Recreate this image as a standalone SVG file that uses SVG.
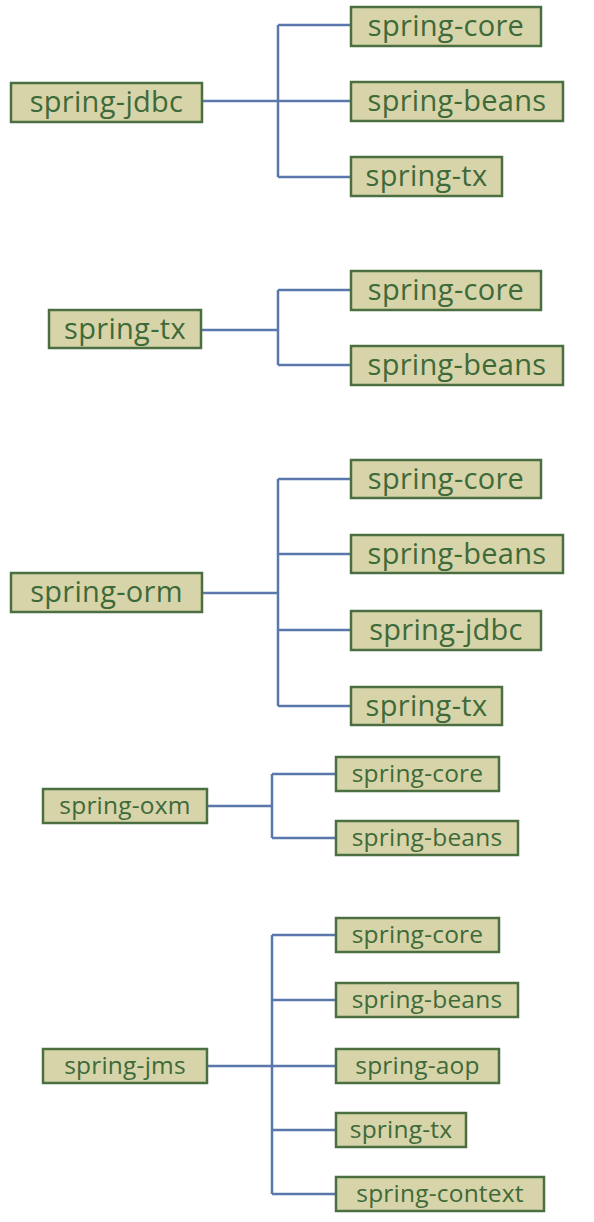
<svg xmlns="http://www.w3.org/2000/svg" width="594" height="1222" viewBox="0 0 594 1222">
<style>
.b rect{fill:#d7d4a9;stroke:#4b6f40;stroke-width:2.5}
.b text{font-family:"Open Sans","Noto Sans","DejaVu Sans",sans-serif;fill:#3e6a3a;text-anchor:middle;dominant-baseline:central}
.L text{font-size:29px;letter-spacing:0.3px}
.S text{font-size:24.5px;letter-spacing:0.2px}
#connectors path{fill:none;stroke:#5a78ac;stroke-width:2.5}
</style>
<rect width="594" height="1222" fill="#ffffff"/>
<g id="connectors">
<path d="M202 101H351M278 25V177M278 25H351M278 177H351"/>
<path d="M201 330H278M278 290V365M278 290H351M278 365H351"/>
<path d="M202 593H278M278 479V706M278 479H351M278 554H351M278 630H351M278 706H351"/>
<path d="M207 806H272M272 774V838M272 774H336M272 838H336"/>
<path d="M207 1066H336M272 935V1194M272 935H336M272 1000H336M272 1130H336M272 1194H336"/>
</g>
<g class="b L">
<g id="g1-jdbc"><rect x="11" y="83" width="191" height="39"/><text x="106.5" y="100">spring-jdbc</text></g>
<g id="g1-core"><rect x="351" y="7" width="190" height="39"/><text x="446" y="24">spring-core</text></g>
<g id="g1-beans"><rect x="351" y="82" width="212" height="39"/><text x="457" y="99">spring-beans</text></g>
<g id="g1-tx"><rect x="351" y="157" width="151" height="39"/><text x="426.5" y="174">spring-tx</text></g>
<g id="g2-tx"><rect x="49" y="310" width="152" height="38"/><text x="125" y="327">spring-tx</text></g>
<g id="g2-core"><rect x="351" y="271" width="190" height="39"/><text x="446" y="288">spring-core</text></g>
<g id="g2-beans"><rect x="351" y="346" width="212" height="39"/><text x="457" y="363">spring-beans</text></g>
<g id="g3-orm"><rect x="11" y="573" width="191" height="39"/><text x="106.5" y="590">spring-orm</text></g>
<g id="g3-core"><rect x="351" y="460" width="190" height="38"/><text x="446" y="477">spring-core</text></g>
<g id="g3-beans"><rect x="351" y="535" width="212" height="38"/><text x="457" y="552">spring-beans</text></g>
<g id="g3-jdbc"><rect x="351" y="611" width="190" height="39"/><text x="446" y="628">spring-jdbc</text></g>
<g id="g3-tx"><rect x="351" y="687" width="151" height="38"/><text x="426.5" y="704">spring-tx</text></g>
</g>
<g class="b S">
<g id="g4-oxm"><rect x="43" y="789" width="164" height="34"/><text x="125" y="804">spring-oxm</text></g>
<g id="g4-core"><rect x="336" y="757" width="163" height="34"/><text x="417.5" y="772">spring-core</text></g>
<g id="g4-beans"><rect x="336" y="821" width="182" height="34"/><text x="427" y="836">spring-beans</text></g>
<g id="g5-jms"><rect x="43" y="1049" width="164" height="34"/><text x="125" y="1064">spring-jms</text></g>
<g id="g5-core"><rect x="336" y="918" width="163" height="34"/><text x="417.5" y="933">spring-core</text></g>
<g id="g5-beans"><rect x="336" y="983" width="182" height="34"/><text x="427" y="998">spring-beans</text></g>
<g id="g5-aop"><rect x="336" y="1049" width="163" height="34"/><text x="417.5" y="1064">spring-aop</text></g>
<g id="g5-tx"><rect x="336" y="1113" width="130" height="34"/><text x="401" y="1128">spring-tx</text></g>
<g id="g5-context"><rect x="336" y="1177" width="208" height="34"/><text x="440" y="1192">spring-context</text></g>
</g>
</svg>
